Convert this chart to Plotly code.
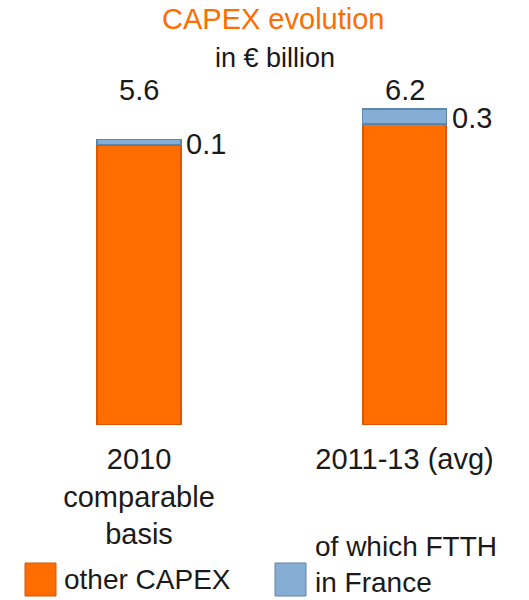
import plotly.graph_objects as go

# ---- data ----
categories = ["2010<br>comparable<br>basis", "2011-13 (avg)"]
other_capex = [5.5, 5.9]
ftth_france = [0.1, 0.3]
totals = [5.6, 6.2]
total_labels = ["5.6", "6.2"]
ftth_labels = ["0.1", "0.3"]
series_names = ["other CAPEX", "of which FTTH<br>in France"]

ORANGE = "#FF6C00"
ORANGE_EDGE = "#D95500"
BLUE = "#86ADD3"
BLUE_EDGE = "#5E86AA"
FONT = "Liberation Sans"
TXT = "#1a1a1a"
FS = 29
W, H = 529, 600

fig = go.Figure()
fig.add_trace(go.Bar(x=categories, y=other_capex, name=series_names[0],
                     marker=dict(color=ORANGE, line=dict(color=ORANGE_EDGE, width=2)),
                     width=0.316, hoverinfo="skip"))
fig.add_trace(go.Bar(x=categories, y=ftth_france, name=series_names[1],
                     marker=dict(color=BLUE, line=dict(color=BLUE_EDGE, width=1.5)),
                     width=0.316, hoverinfo="skip"))

ann = []
# title
ann.append(dict(text="CAPEX evolution", x=273 / W, y=1 - 19 / H, xref="paper", yref="paper",
                xanchor="center", yanchor="middle",
                showarrow=False, font=dict(family=FONT, size=FS, color=ORANGE)))
ann.append(dict(text="in € billion", x=275 / W, y=1 - 58 / H, xref="paper", yref="paper",
                xanchor="center", yanchor="middle",
                showarrow=False, font=dict(family=FONT, size=27, color=TXT)))
# total labels (same row, above the taller bar)
top = max(totals)
for c, t in zip(categories, total_labels):
    ann.append(dict(text=t, x=c, y=top, xref="x", yref="y", yanchor="bottom",
                    yshift=1, showarrow=False,
                    font=dict(family=FONT, size=FS, color=TXT)))
# FTTH labels to the right of each bar
for c, o, f, t in zip(categories, other_capex, ftth_france, ftth_labels):
    ann.append(dict(text=t, x=c, y=o + f / 2, xref="x", yref="y", xanchor="left",
                    yanchor="middle", xshift=45, yshift=-2, showarrow=False,
                    font=dict(family=FONT, size=FS, color=TXT)))

# legend (drawn manually for large swatches)
shapes = []
legend_items = [(25, ORANGE, ORANGE_EDGE, 62, 579), (275, BLUE, BLUE_EDGE, 313, 564)]
for (x0, col, edge, tx, ty), name in zip(legend_items, series_names):
    shapes.append(dict(type="rect", xref="paper", yref="paper",
                       x0=x0 / W, x1=(x0 + 31) / W, y0=1 - 596 / H, y1=1 - 563 / H,
                       fillcolor=col, line=dict(color=edge, width=1)))
    ann.append(dict(text=name, x=tx / W, y=1 - ty / H, xref="paper", yref="paper",
                    xanchor="left", yanchor="middle", align="left", showarrow=False,
                    font=dict(family=FONT, size=28, color=TXT)))

bottom_px, top_px = 425, 78
fig.update_layout(
    width=W, height=H, barmode="stack", showlegend=False,
    paper_bgcolor="white", plot_bgcolor="white",
    margin=dict(l=0, r=0, t=0, b=0),
    hovermode=False,
    xaxis=dict(type="category", range=[-139 / 265.5, (W - 139) / 265.5],
               showgrid=False, showline=False, zeroline=False, ticks="",
               ticklabelstandoff=14,
               tickfont=dict(family=FONT, size=FS, color=TXT)),
    yaxis=dict(domain=[1 - bottom_px / H, 1 - top_px / H],
               range=[0, (bottom_px - top_px) / 51.0],
               visible=False),
    annotations=ann, shapes=shapes,
)
fig.write_html("out.html", config={"displayModeBar": False})

# remove the default page margin so the figure sits at the window's corner
with open("out.html", encoding="utf-8") as fh:
    html = fh.read()
html = html.replace("<head>", "<head><style>html,body{margin:0;padding:0;overflow:hidden}</style>", 1)
with open("out.html", "w", encoding="utf-8") as fh:
    fh.write(html)
